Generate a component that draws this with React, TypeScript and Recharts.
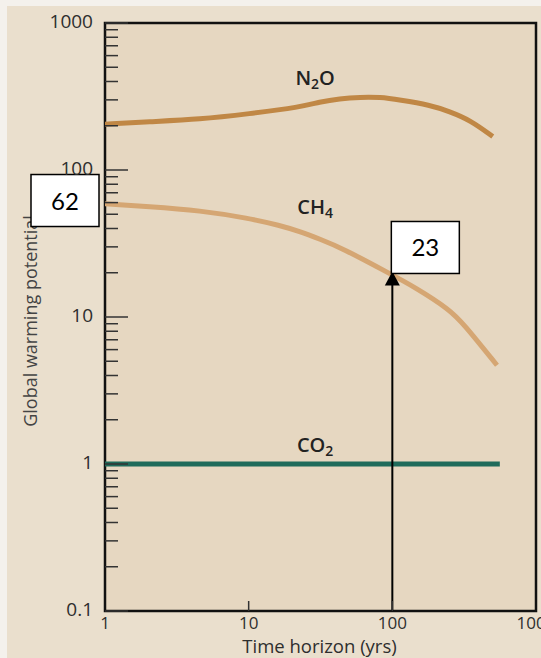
import {
  LineChart,
  Line,
  XAxis,
  YAxis,
  CartesianGrid,
  ReferenceLine,
  ReferenceDot,
  ReferenceArea,
} from "recharts";

// readings (log-log)
const n2oYears = [1, 2, 4.6, 10, 23, 31, 43, 60, 82, 112, 183, 250, 347, 500];
const n2oGwp = [205, 213, 221, 241, 268, 290, 306, 313, 313, 300, 277, 250, 219, 169];

const ch4Years = [1, 2, 4.6, 10, 16.5, 23, 31, 45, 91, 148, 251, 310, 535];
const ch4Gwp = [59, 56.5, 53, 47, 42, 38, 34, 29.3, 20.3, 15.7, 11.2, 9.1, 4.7];

const co2Years = [1, 560];
const co2Gwp = [1, 1];

const xTicks = [1, 10, 100, 1000];
const yDecades = [0.1, 1, 10, 100, 1000];
const yMinorSteps = [2, 3, 4, 5, 6, 7, 8, 9];

const seriesNames = ["N2O", "CH4", "CO2"];
const seriesLabelYears = [29, 29, 29];
const seriesLabelValues = [416, 55, 1.32];

const startLabel = "62";
const startValue = 62;
const markerLabel = "23";
const markerYear = 100;
const markerTip = 20.4;

const xTitle = "Time horizon (yrs)";
const yTitle = "Global warming potential";

const toPoints = (xs: number[], ys: number[]) => xs.map((x, i) => ({ x, y: ys[i] }));
const n2oData = toPoints(n2oYears, n2oGwp);
const ch4Data = toPoints(ch4Years, ch4Gwp);
const co2Data = toPoints(co2Years, co2Gwp);

const yTicks = yDecades.flatMap((d, i) =>
  i < yDecades.length - 1 ? [d, ...yMinorSteps.map((s) => +(d * s).toPrecision(3))] : [d]
);

const FONT = "'Open Sans', 'Noto Sans', sans-serif";
const INK = "#2e2e2e";

const LeftTick = ({ x, y, payload }: any) => {
  const major = yDecades.includes(payload.value);
  return (
    <g>
      <line x1={x} x2={x + (major ? 23 : 13)} y1={y} y2={y} stroke="#333" strokeWidth={1.5} />
      {major && (
        <text x={x - 12} y={y + 5} textAnchor="end" fill={INK} fontSize={19} fontFamily={FONT}>
          {String(payload.value)}
        </text>
      )}
    </g>
  );
};

const RightTick = ({ x, y, payload }: any) => {
  const major = yDecades.includes(payload.value);
  return <line x1={x} x2={x - (major ? 22 : 12)} y1={y} y2={y} stroke="#333" strokeWidth={1.5} />;
};

const BottomTick = ({ x, y, payload, index }: any) => (
  <g>
    {index > 0 && index < xTicks.length - 1 && (
      <line x1={x} x2={x} y1={y} y2={y - 10} stroke="#333" strokeWidth={1.5} />
    )}
    <text x={x} y={y + 18} textAnchor="middle" fill={INK} fontSize={17} fontFamily={FONT}>
      {String(payload.value)}
    </text>
  </g>
);

const renderFormula = (name: string) => (p: any) => {
  const parts = name.split(/(\d)/).filter(Boolean);
  let shifted = false;
  return (
    <text x={p.cx} y={p.cy + 6} textAnchor="middle" fill="#222" fontSize={20} fontWeight={600} fontFamily={FONT}>
      {parts.map((part, i) => {
        if (/\d/.test(part)) {
          shifted = true;
          return (
            <tspan key={i} fontSize={14} dy={4}>
              {part}
            </tspan>
          );
        }
        const dy = shifted ? -4 : 0;
        shifted = false;
        return (
          <tspan key={i} dy={dy}>
            {part}
          </tspan>
        );
      })}
    </text>
  );
};

const ValueBox = (label: string, dxLeft: number, dyTop: number) => (p: any) => (
  <g>
    <rect x={p.cx + dxLeft} y={p.cy + dyTop} width={68} height={52} fill="#fff" stroke="#000" strokeWidth={1.5} />
    <text
      x={p.cx + dxLeft + 34}
      y={p.cy + dyTop + 35}
      textAnchor="middle"
      fill="#000"
      fontSize={24}
      fontFamily="Lato, 'Open Sans', sans-serif"
    >
      {label}
    </text>
  </g>
);

const Arrow = (p: any) => {
  const top = Math.min(p.y1, p.y2);
  const bottom = Math.max(p.y1, p.y2);
  return (
    <g>
      <line x1={p.x1} x2={p.x1} y1={bottom} y2={top + 10} stroke="#000" strokeWidth={2} />
      <path d={`M${p.x1},${top} L${p.x1 - 7.5},${top + 14} L${p.x1 + 7.5},${top + 14} Z`} fill="#000" />
    </g>
  );
};

const App = () => {
  return (
    <div style={{ position: "absolute", left: 0, top: 0, width: 541, height: 658, background: "#f4f1ec" }}>
      <div style={{ position: "absolute", left: 7, top: 6, width: 534, height: 652, background: "#eadfcd" }} />
      <div style={{ position: "absolute", left: 0, top: 0 }}>
        <LineChart width={541} height={658} margin={{ top: 23, right: 5, bottom: 0, left: 7 }}>
          <CartesianGrid fill="#e6d7c1" horizontal={false} vertical={false} />
          <XAxis
            dataKey="x"
            type="number"
            scale="log"
            domain={[1, 1000]}
            allowDataOverflow
            ticks={xTicks}
            interval={0}
            height={47}
            tickSize={0}
            tickMargin={0}
            axisLine={false}
            tickLine={false}
            tick={<BottomTick />}
            label={{
              content: ({ viewBox }: any) => (
                <text
                  x={viewBox.x + viewBox.width / 2 - 1}
                  y={viewBox.y + 42}
                  textAnchor="middle"
                  fill={INK}
                  fontSize={18.5}
                  fontFamily={FONT}
                >
                  {xTitle}
                </text>
              ),
            }}
          />
          <YAxis
            yAxisId="left"
            type="number"
            scale="log"
            domain={[0.1, 1000]}
            allowDataOverflow
            ticks={yTicks}
            interval={0}
            width={98}
            tickSize={0}
            tickMargin={0}
            axisLine={false}
            tickLine={false}
            tick={<LeftTick />}
            label={{
              content: ({ viewBox }: any) => {
                const cx = viewBox.x + 23;
                const cy = viewBox.y + viewBox.height / 2 + 4;
                return (
                  <text
                    x={cx}
                    y={cy}
                    transform={`rotate(-90 ${cx} ${cy})`}
                    textAnchor="middle"
                    dominantBaseline="central"
                    fill="#444"
                    fontSize={18}
                    fontFamily={FONT}
                  >
                    {yTitle}
                  </text>
                );
              },
            }}
          />
          <YAxis
            yAxisId="right"
            orientation="right"
            type="number"
            scale="log"
            domain={[0.1, 1000]}
            allowDataOverflow
            ticks={yTicks}
            interval={0}
            width={0}
            tickSize={0}
            tickMargin={0}
            axisLine={false}
            tickLine={false}
            tick={<RightTick />}
          />
          <Line
            yAxisId="left"
            data={n2oData}
            dataKey="y"
            type="basis"
            stroke="#c08745"
            strokeWidth={5}
            dot={false}
            activeDot={false}
            isAnimationActive={false}
          />
          <Line
            yAxisId="left"
            data={ch4Data}
            dataKey="y"
            type="basis"
            stroke="#d5a673"
            strokeWidth={5}
            dot={false}
            activeDot={false}
            isAnimationActive={false}
          />
          <Line
            yAxisId="left"
            data={co2Data}
            dataKey="y"
            type="linear"
            stroke="#1f6b5b"
            strokeWidth={5}
            dot={false}
            activeDot={false}
            isAnimationActive={false}
          />
          <ReferenceArea
            yAxisId="left"
            x1={1}
            x2={1000}
            y1={0.1}
            y2={1000}
            fill="none"
            stroke="#111"
            strokeWidth={2.5}
            fillOpacity={0}
            ifOverflow="visible"
          />
          {seriesNames.map((name, i) => (
            <ReferenceDot
              key={name}
              yAxisId="left"
              x={seriesLabelYears[i]}
              y={seriesLabelValues[i]}
              ifOverflow="visible"
              shape={renderFormula(name)}
            />
          ))}
          <ReferenceLine
            yAxisId="left"
            segment={[
              { x: markerYear, y: 0.1 },
              { x: markerYear, y: markerTip },
            ]}
            ifOverflow="visible"
            shape={Arrow}
          />
          <ReferenceDot
            yAxisId="left"
            x={1}
            y={startValue}
            ifOverflow="visible"
            shape={ValueBox(startLabel, -74, -26)}
          />
          <ReferenceDot
            yAxisId="left"
            x={markerYear}
            y={markerTip}
            ifOverflow="visible"
            shape={ValueBox(markerLabel, -1, -50)}
          />
        </LineChart>
      </div>
    </div>
  );
};

export default App;
